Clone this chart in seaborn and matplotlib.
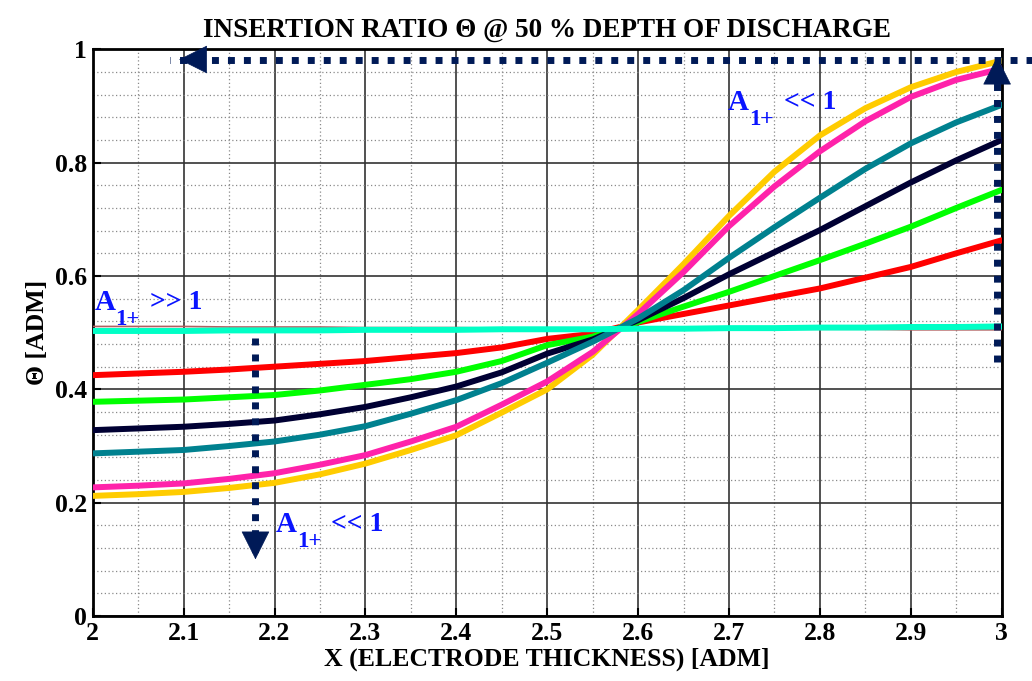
import numpy as np
import pandas as pd
import matplotlib
matplotlib.use("Agg")
import matplotlib.pyplot as plt
import matplotlib.transforms as mtransforms
import seaborn as sns
from matplotlib.ticker import MultipleLocator

# ---------------- data ----------------
x_vals = [2.00, 2.05, 2.10, 2.15, 2.20, 2.25, 2.30, 2.35, 2.40, 2.45, 2.50,
          2.55, 2.60, 2.65, 2.70, 2.75, 2.80, 2.85, 2.90, 2.95, 3.00]

red = [0.425, 0.428, 0.431, 0.435, 0.440, 0.445, 0.450, 0.457, 0.464, 0.474, 0.489,
       0.498, 0.518, 0.533, 0.548, 0.563, 0.578, 0.597, 0.616, 0.640, 0.663]
green = [0.378, 0.380, 0.382, 0.386, 0.390, 0.398, 0.408, 0.418, 0.431, 0.450, 0.478,
         0.493, 0.519, 0.546, 0.572, 0.600, 0.628, 0.657, 0.687, 0.720, 0.752]
navy = [0.328, 0.331, 0.334, 0.339, 0.345, 0.356, 0.369, 0.386, 0.405, 0.430, 0.463,
        0.488, 0.522, 0.561, 0.603, 0.642, 0.681, 0.723, 0.765, 0.804, 0.840]
teal = [0.287, 0.290, 0.293, 0.300, 0.308, 0.320, 0.335, 0.357, 0.381, 0.411, 0.447,
        0.484, 0.525, 0.575, 0.632, 0.686, 0.738, 0.789, 0.834, 0.871, 0.902]
magenta = [0.227, 0.230, 0.234, 0.242, 0.252, 0.267, 0.284, 0.308, 0.334, 0.373, 0.414,
           0.466, 0.533, 0.607, 0.688, 0.758, 0.820, 0.873, 0.916, 0.946, 0.966]
gold = [0.212, 0.215, 0.219, 0.226, 0.235, 0.250, 0.269, 0.293, 0.319, 0.359, 0.400,
        0.461, 0.540, 0.621, 0.706, 0.784, 0.848, 0.896, 0.933, 0.960, 0.980]
cyan = [0.503, 0.503, 0.503, 0.504, 0.504, 0.504, 0.505, 0.505, 0.505, 0.506, 0.506,
        0.506, 0.507, 0.507, 0.508, 0.508, 0.509, 0.509, 0.510, 0.510, 0.511]
hidden = [0.511, 0.511, 0.511, 0.510, 0.510, 0.510, 0.509, 0.509, 0.509, 0.508, 0.508,
          0.508, 0.507, 0.507, 0.507, 0.506, 0.506, 0.506, 0.505, 0.505, 0.505]

series_names = ["hidden", "red", "green", "navy", "gold", "magenta", "teal", "cyan"]
series_values = [hidden, red, green, navy, gold, magenta, teal, cyan]
series_colors = ["#b06060", "#ff0000", "#00ff00", "#000033", "#ffcc00",
                 "#ff22aa", "#00818f", "#00ffc6"]
series_widths = [1.2, 4.3, 4.3, 4.3, 4.3, 4.3, 4.3, 4.3]

title_text = "INSERTION RATIO \u0398 @ 50 % DEPTH OF DISCHARGE"
xlabel_text = "X (ELECTRODE THICKNESS) [ADM]"
ylabel_text = "\u0398 [ADM]"
x_ticks = [2.0, 2.1, 2.2, 2.3, 2.4, 2.5, 2.6, 2.7, 2.8, 2.9, 3.0]
x_ticklabels = ["2", "2.1", "2.2", "2.3", "2.4", "2.5", "2.6", "2.7", "2.8", "2.9", "3"]
y_ticks = [0, 0.2, 0.4, 0.6, 0.8, 1.0]
y_ticklabels = ["0", "0.2", "0.4", "0.6", "0.8", "1"]

# annotation anchors (data coords)
h_arrow_x = [3.035, 2.085]
h_arrow_y = [0.982, 0.982]
vr_arrow_x = [2.995, 2.995]
vr_arrow_y = [0.448, 0.975]
vl_arrow_x = [2.179, 2.179]
vl_arrow_y = [0.49, 0.105]
label_main = ["A", "A", "A"]
label_sub = ["1+", "1+", "1+"]
label_rest = [">> 1", "<< 1", "<< 1"]
label_x = [2.002, 2.2015, 2.699]
label_y = [0.540, 0.148, 0.893]

# ---------------- style ----------------
sns.set_theme(style="white")
plt.rcParams["font.family"] = ["Liberation Serif", "DejaVu Serif"]
plt.rcParams["font.weight"] = "bold"
for k in ["text.color", "axes.labelcolor", "xtick.color", "ytick.color"]:
    plt.rcParams[k] = "black"

fig = plt.figure(figsize=(10.32, 6.81), dpi=100)
ax = fig.add_axes([0.0899, 0.0954, 0.8807, 0.8322])

rows = []
for name, vals in zip(series_names, series_values):
    for xv, yv in zip(x_vals, vals):
        rows.append({"x": xv, "y": yv, "series": name})
df = pd.DataFrame(rows)

for name, col, lw in zip(series_names, series_colors, series_widths):
    sns.lineplot(data=df[df["series"] == name], x="x", y="y", color=col,
                 linewidth=lw, ax=ax, legend=False, sort=False, zorder=3)

ax.set_xlim(2, 3)
ax.set_ylim(0, 1)
ax.set_xticks(x_ticks)
ax.set_xticklabels(x_ticklabels)
ax.set_yticks(y_ticks)
ax.set_yticklabels(y_ticklabels)
ax.xaxis.set_minor_locator(MultipleLocator(0.05))
ax.yaxis.set_minor_locator(MultipleLocator(0.04))
ax.grid(which="major", color="#333333", linewidth=1.2, linestyle="-", zorder=0)
ax.grid(which="minor", color="#8a8a8a", linewidth=0.9, linestyle=(0, (1, 2)), zorder=0)
ax.set_axisbelow(True)
ax.tick_params(axis="both", which="major", direction="in", length=6, width=1.5,
               labelsize=18.5, pad=4, colors="black", top=False, right=False,
               bottom=True, left=True)
ax.tick_params(axis="both", which="minor", length=0)
for lab in ax.get_xticklabels() + ax.get_yticklabels():
    lab.set_fontweight("bold")
for sp in ax.spines.values():
    sp.set_linewidth(2.0)
    sp.set_color("black")

ax.set_xlabel(xlabel_text, fontsize=18.5, fontweight="bold", labelpad=2, color="black")
ax.set_ylabel(ylabel_text, fontsize=18.5, fontweight="bold", labelpad=4, color="black")
ax.set_title(title_text, fontsize=19.5, fontweight="bold", pad=9, color="black")

# ---------------- arrows ----------------
arrow_col = "#001a57"
dot = (0, (1.0, 1.3))
for xs, ys in [(h_arrow_x, h_arrow_y), (vr_arrow_x, vr_arrow_y), (vl_arrow_x, vl_arrow_y)]:
    ax.plot(xs, ys, color=arrow_col, lw=5, linestyle=dot,
            dash_capstyle="butt", clip_on=False, zorder=6)

def head(tip, frm):
    ax.annotate("", xy=tip, xytext=frm, annotation_clip=False,
                arrowprops=dict(arrowstyle="-|>,head_length=1.2,head_width=0.6",
                                mutation_scale=16, color=arrow_col, lw=0.5,
                                shrinkA=0, shrinkB=0), zorder=7)

head((2.095, 0.982), (2.12, 0.982))
head((2.995, 0.987), (2.995, 0.955))
head((2.179, 0.100), (2.179, 0.135))

# ---------------- A_{1+} labels ----------------
blue = "#0a14ff"
for m, s, r, tx, ty in zip(label_main, label_sub, label_rest, label_x, label_y):
    ax.text(tx, ty, m, color=blue, fontsize=21, fontweight="bold",
            ha="left", va="baseline", zorder=8)
    tr_sub = mtransforms.offset_copy(ax.transData, fig=fig, x=15, y=-11, units="points")
    ax.text(tx, ty, s, color=blue, fontsize=16.5, fontweight="bold",
            ha="left", va="baseline", transform=tr_sub, zorder=8)
    tr_rest = mtransforms.offset_copy(ax.transData, fig=fig, x=40, y=1, units="points")
    ax.text(tx, ty, r, color=blue, fontsize=20, fontweight="bold",
            ha="left", va="baseline", transform=tr_rest, zorder=8)

fig.savefig("out.png", dpi=100)
